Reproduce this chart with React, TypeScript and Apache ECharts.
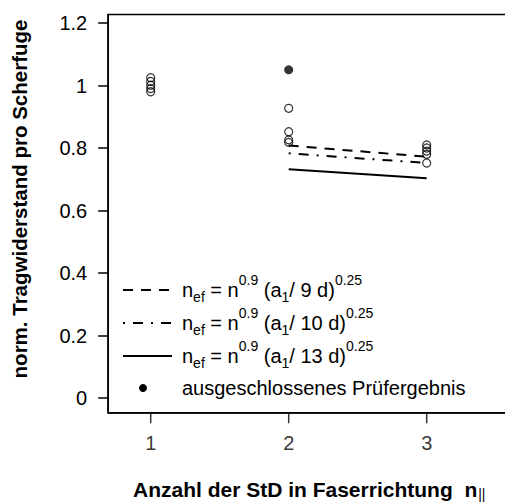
import React, { useEffect, useRef } from "react";
import * as echarts from "echarts";

// Anzahl der StD in Faserrichtung
const nTicks = [1, 2, 3];
const yTicks = [0, 0.2, 0.4, 0.6, 0.8, 1, 1.2];
// observed normalized capacities (open circles)
const obsN1 = [1.025, 1.013, 1.001, 0.99, 0.98];
const obsN2 = [0.927, 0.852, 0.826, 0.818];
const obsN3 = [0.81, 0.8, 0.79, 0.78, 0.752];
// excluded test result
const excludedN = [2];
const excludedV = [1.05];
// model curves at n = 2, 3
const modelN = [2, 3];
const model9d = [0.808, 0.772];
const model10d = [0.783, 0.752];
const model13d = [0.732, 0.703];

const X_MIN = 0.692;
const X_MAX = 3.582;
const Y_MIN = -0.0472;
const Y_MAX = 1.2272;

const FONT = "'Liberation Sans', Arial, Helvetica, sans-serif";
const FS = 20;
const FS_SMALL = 14;

const legendRich = {
  m: { fontSize: FS, fontFamily: FONT, lineHeight: 34, verticalAlign: "middle" as const, fill: "#000" },
  sub: { fontSize: FS_SMALL, fontFamily: FONT, lineHeight: 14, verticalAlign: "bottom" as const, fill: "#000", padding: [0, 0, 3, 0] },
  sup: { fontSize: FS_SMALL, fontFamily: FONT, lineHeight: 14, verticalAlign: "top" as const, fill: "#000", padding: [0, 0, 0, 0] },
};

function formula(a: string) {
  return `{m|n}{sub|ef}{m| = n}{sup|0.9}{m| (a}{sub|1}{m|/ ${a} d)}{sup|0.25}`;
}

export default function App() {
  const ref = useRef<HTMLDivElement>(null);
  useEffect(() => {
    if (!ref.current) return;
    const chart = echarts.init(ref.current, null, { renderer: "svg" });
    const circleStyle = { color: "rgba(0,0,0,0)", borderColor: "#000", borderWidth: 1.2 };
    const legendRows = [
      { y: 290, dash: [10, 8] as number[] | "solid", label: formula("9") },
      { y: 323, dash: [2, 8, 10, 8], label: formula("10") },
      { y: 356, dash: "solid" as const, label: formula("13") },
    ];
    const graphic: any[] = [];
    legendRows.forEach((r) => {
      graphic.push({
        type: "line",
        shape: { x1: 123, y1: r.y, x2: 172, y2: r.y },
        style: { stroke: "#000", lineWidth: 2, lineDash: r.dash === "solid" ? null : r.dash },
      });
      graphic.push({
        type: "text",
        x: 182,
        y: r.y,
        style: { text: r.label, rich: legendRich, verticalAlign: "middle", align: "left", fill: "#000" },
      });
    });
    graphic.push({ type: "circle", shape: { cx: 143, cy: 388, r: 4 }, style: { fill: "#000" } });
    graphic.push({
      type: "text",
      x: 182,
      y: 388,
      style: { text: "ausgeschlossenes Prüfergebnis", fontSize: FS, fontFamily: FONT, verticalAlign: "middle", fill: "#000" },
    });
    // axis titles
    graphic.push({
      type: "text",
      x: 133,
      y: 489,
      style: {
        text: "{b|Anzahl der StD in Faserrichtung  n}{s|||}",
        verticalAlign: "middle",
        rich: {
          b: { fontSize: 21, fontWeight: "bold", fontFamily: FONT, lineHeight: 24, verticalAlign: "middle", fill: "#000" },
          s: { fontSize: 14, fontWeight: "normal", fontFamily: FONT, lineHeight: 14, verticalAlign: "bottom", fill: "#000", padding: [0, 0, 0, 1] },
        },
      },
    });
    graphic.push({
      type: "text",
      x: 19,
      y: 199,
      rotation: Math.PI / 2,
      style: {
        text: "norm. Tragwiderstand pro Scherfuge",
        fontSize: 20.5,
        fontWeight: "bold",
        fontFamily: FONT,
        align: "center",
        verticalAlign: "middle",
        fill: "#000",
      },
    });

    chart.setOption({
      animation: false,
      backgroundColor: "#fff",
      grid: {
        left: 108.2,
        top: 14.5,
        width: 398.8,
        height: 398.25,
        show: true,
        borderColor: "#000",
        borderWidth: 1.5,
        backgroundColor: "transparent",
        containLabel: false,
        outerBoundsMode: "none",
      },
      xAxis: {
        type: "value",
        min: X_MIN,
        max: X_MAX,
        axisLine: { show: true, onZero: false, symbol: "none", lineStyle: { color: "#000", width: 1.5 } },
        splitLine: { show: false },
        minorTick: { show: false },
        axisTick: { show: false },
        axisLabel: { show: false },
      },
      yAxis: {
        type: "value",
        min: Y_MIN,
        max: Y_MAX,
        axisLine: { show: true, onZero: false, symbol: "none", lineStyle: { color: "#000", width: 1.5 } },
        splitLine: { show: false },
        minorTick: { show: false },
        axisTick: { show: true, length: 10, inside: false, customValues: yTicks, lineStyle: { color: "#000", width: 1.5 } },
        axisLabel: { customValues: yTicks, fontSize: FS, fontFamily: FONT, color: "#000", margin: 21 },
      },
      series: [
        // x-axis tick marks and tick labels, placed at the tick values on the lower edge of the plot
        {
          type: "scatter",
          data: nTicks.map((v) => [v, Y_MIN]),
          symbol: "rect",
          symbolSize: [1.5, 10],
          symbolOffset: [0, 5.5],
          itemStyle: { color: "#000" },
          clip: false,
          silent: true,
          z: 1,
          label: {
            show: true,
            position: "bottom",
            distance: 10,
            formatter: (p: any) => String(p.value[0]),
            fontSize: FS,
            fontFamily: FONT,
            color: "#000",
          },
        },
        { type: "scatter", data: obsN1.map((v) => [1, v]), symbol: "circle", symbolSize: 8, itemStyle: circleStyle, silent: true },
        { type: "scatter", data: obsN2.map((v) => [2, v]), symbol: "circle", symbolSize: 8, itemStyle: circleStyle, silent: true },
        { type: "scatter", data: obsN3.map((v) => [3, v]), symbol: "circle", symbolSize: 8, itemStyle: circleStyle, silent: true },
        { type: "scatter", data: excludedN.map((n, i) => [n, excludedV[i]]), symbol: "circle", symbolSize: 9, itemStyle: { color: "#000" }, silent: true },
        { type: "line", data: modelN.map((n, i) => [n, model9d[i]]), symbol: "none", lineStyle: { color: "#000", width: 2, type: [10, 8] }, silent: true },
        { type: "line", data: modelN.map((n, i) => [n, model10d[i]]), symbol: "none", lineStyle: { color: "#000", width: 2, type: [2, 8, 10, 8] }, silent: true },
        { type: "line", data: modelN.map((n, i) => [n, model13d[i]]), symbol: "none", lineStyle: { color: "#000", width: 2, type: "solid" }, silent: true },
      ],
      graphic,
    });
    return () => chart.dispose();
  }, []);
  return <div ref={ref} style={{ position: "absolute", left: 0, top: 0, width: 505, height: 503 }} />;
}
